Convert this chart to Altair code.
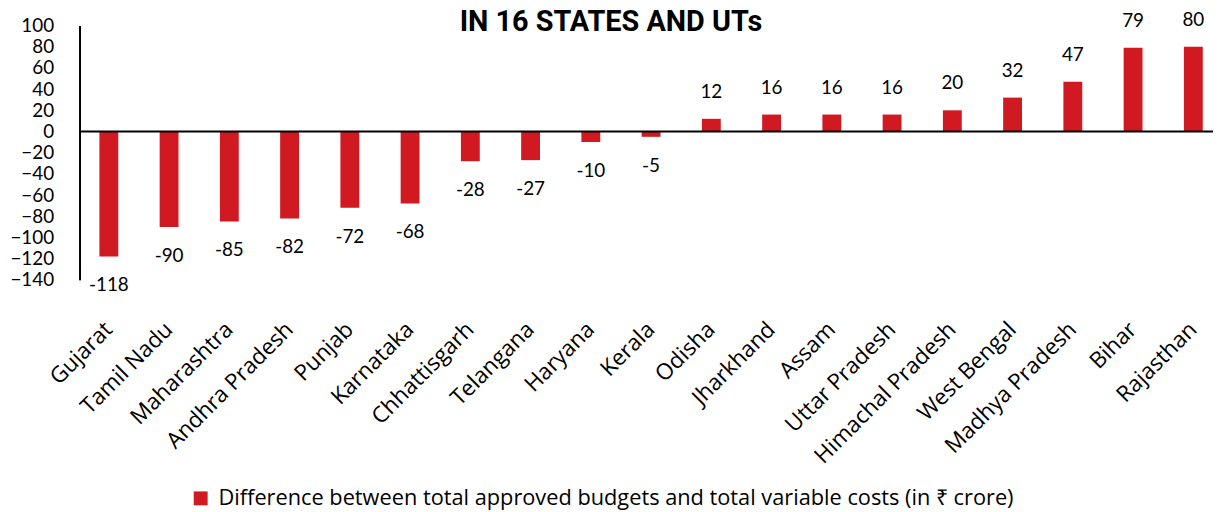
import altair as alt
import pandas as pd

states = ["Gujarat", "Tamil Nadu", "Maharashtra", "Andhra Pradesh", "Punjab",
          "Karnataka", "Chhattisgarh", "Telangana", "Haryana", "Kerala",
          "Odisha", "Jharkhand", "Assam", "Uttar Pradesh", "Himachal Pradesh",
          "West Bengal", "Madhya Pradesh", "Bihar", "Rajasthan"]
values = [-118, -90, -85, -82, -72, -68, -28, -27, -10, -5,
          12, 16, 16, 16, 20, 32, 47, 79, 80]
series_name = "Difference between total approved budgets and total variable costs (in ₹ crore)"
title_text = ["IN 16 STATES AND UTs"]
y_ticks = [-140, -120, -100, -80, -60, -40, -20, 0, 20, 40, 60, 80, 100]

df = pd.DataFrame({"state": states, "value": values})
df["series"] = series_name
df["label"] = df["value"].astype(str)
df_title = pd.DataFrame({"t": title_text})

RED = "#D01920"
W, H = 1141, 256

x = alt.X("state:N", sort=states, title=None,
          scale=alt.Scale(paddingInner=0.687, paddingOuter=0.25, align=0.66),
          axis=alt.Axis(orient="bottom", labelAngle=-45, labelAlign="right",
                        labelBaseline="middle", labelPadding=46, labelFontSize=22.5,
                        labelFont="Open Sans", labelColor="black", domain=False,
                        ticks=False, grid=False, labelOverlap=False, labelLimit=0))
y_scale = alt.Scale(domain=[-140, 100], nice=False, zero=False)
y_axis = alt.Axis(values=y_ticks, ticks=False, grid=False, domainColor="black",
                  domainWidth=2, labelFont="Lato", labelFontSize=19,
                  labelColor="black", labelPadding=26, labelOverlap=False,
                  labelBound=False, labelFlush=False)
y = alt.Y("value:Q", title=None, scale=y_scale, axis=y_axis)

base = alt.Chart(df)

bars = base.mark_bar().encode(
    x=x, y=y,
    color=alt.Color("series:N", scale=alt.Scale(range=[RED]),
                    legend=alt.Legend(title=None, orient="none", legendX=111, legendY=465,
                                      symbolType="square", symbolSize=196,
                                      symbolStrokeWidth=0, labelFont="Open Sans",
                                      labelFontSize=21.9, labelColor="black",
                                      labelLimit=0, labelOffset=7)),
)

zero = alt.Chart(df_title).mark_rule(color="black", strokeWidth=2).encode(
    y=alt.Y(datum=0, title=None, scale=y_scale, axis=y_axis))

neg = base.transform_filter("datum.value < 0").mark_text(
    font="Lato", fontSize=19, color="black", baseline="middle", dy=29
).encode(x=x, y=y, text="label:N")

pos = base.transform_filter("datum.value >= 0").mark_text(
    font="Lato", fontSize=19, color="black", baseline="middle", dy=-27
).encode(x=x, y=y, text="label:N")

title = alt.Chart(df_title).mark_text(
    font="Roboto", fontWeight="bold", fontSize=29, color="black",
    baseline="alphabetic", align="center"
).encode(x=alt.value(535), y=alt.value(5), text="t:N")

chart = alt.layer(bars, zero, neg, pos, title).properties(
    width=W, height=H,
    autosize=alt.AutoSizeParams(type="none"),
    padding={"left": 72, "top": 16, "right": 0, "bottom": 232},
).configure_view(stroke=None).configure_axisY(labelOverlap=False)

chart.save("out.html", embed_options={"renderer": "svg", "actions": False})
